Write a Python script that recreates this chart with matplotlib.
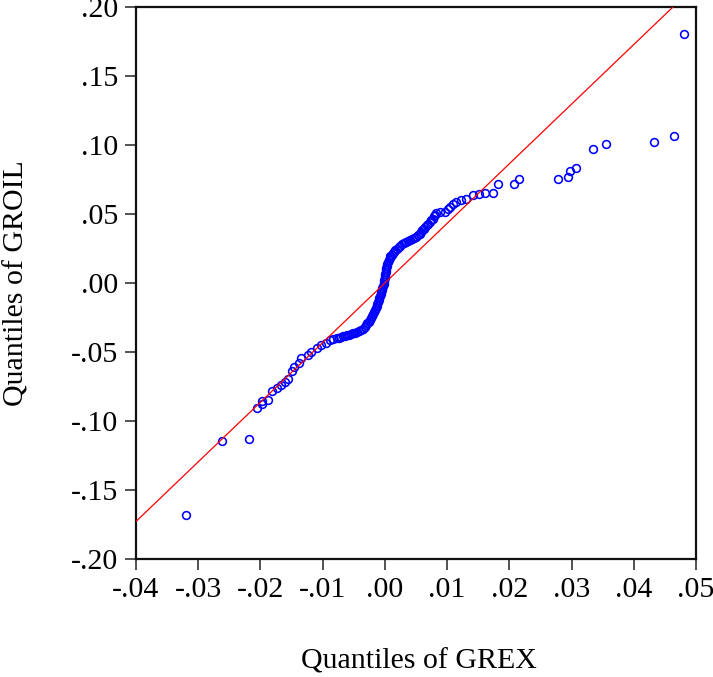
import numpy as np
import matplotlib.pyplot as plt
from matplotlib.ticker import FuncFormatter

# quantiles (sorted), lower tail / dense middle / upper tail
grex_low = [-0.0319, -0.0261, -0.0218, -0.0206, -0.0198, -0.0198, -0.0188, -0.0182,
            -0.0174, -0.0167, -0.0161, -0.0155, -0.0149, -0.0146, -0.0138, -0.0135,
            -0.0123, -0.0118, -0.0109, -0.0103, -0.0094, -0.0088, -0.0083]
groil_low = [-0.1681, -0.1145, -0.1130, -0.0906, -0.0879, -0.0853, -0.0846, -0.0780,
             -0.0761, -0.0737, -0.0715, -0.0696, -0.0639, -0.0607, -0.0578, -0.0543,
             -0.0522, -0.0498, -0.0473, -0.0449, -0.0433, -0.0415, -0.0408]

grex_mid = [-0.0077, -0.0074, -0.0071, -0.0067, -0.0064, -0.0061, -0.0058, -0.0054, -0.0051, -0.0048,
            -0.0045, -0.0042, -0.0038, -0.0035, -0.0032, -0.0030, -0.0028, -0.0026, -0.0024, -0.0022,
            -0.0021, -0.0019, -0.0018, -0.0016, -0.0015, -0.0013, -0.0012, -0.0011, -0.0010, -0.0009,
            -0.0008, -0.0007, -0.0006, -0.0005, -0.0004, -0.0003, -0.0002, -0.0002, -0.0001, 0.0000,
            0.0000, 0.0000, 0.0001, 0.0002, 0.0002, 0.0003, 0.0004, 0.0005, 0.0006, 0.0008,
            0.0009, 0.0011, 0.0013, 0.0015, 0.0017, 0.0020, 0.0022, 0.0025, 0.0028, 0.0031,
            0.0034, 0.0037, 0.0040, 0.0044, 0.0047, 0.0050, 0.0053, 0.0056, 0.0058, 0.0060,
            0.0063, 0.0065, 0.0067, 0.0070, 0.0072, 0.0074, 0.0077, 0.0079, 0.0081]
groil_mid = [-0.0401, -0.0396, -0.0391, -0.0387, -0.0383, -0.0378, -0.0374, -0.0370, -0.0365, -0.0359,
             -0.0354, -0.0347, -0.0339, -0.0330, -0.0319, -0.0307, -0.0293, -0.0279, -0.0265, -0.0251,
             -0.0236, -0.0222, -0.0207, -0.0193, -0.0178, -0.0164, -0.0149, -0.0135, -0.0120, -0.0106,
             -0.0091, -0.0077, -0.0062, -0.0048, -0.0033, -0.0019, -0.0004, 0.0010, 0.0025, 0.0039,
             0.0054, 0.0068, 0.0083, 0.0097, 0.0112, 0.0126, 0.0141, 0.0154, 0.0168, 0.0181,
             0.0193, 0.0206, 0.0217, 0.0228, 0.0239, 0.0249, 0.0259, 0.0267, 0.0283, 0.0290,
             0.0297, 0.0304, 0.0312, 0.0319, 0.0327, 0.0335, 0.0346, 0.0357, 0.0369, 0.0381,
             0.0393, 0.0405, 0.0417, 0.0430, 0.0442, 0.0454, 0.0467, 0.0482, 0.0496]

grex_high = [0.0082, 0.0089, 0.0097, 0.0102, 0.0105, 0.0110, 0.0115, 0.0123, 0.0131, 0.0142,
             0.0152, 0.0161, 0.0173, 0.0181, 0.0207, 0.0215, 0.0278, 0.0295, 0.0297, 0.0307,
             0.0335, 0.0356, 0.0432, 0.0465, 0.0481]
groil_high = [0.0505, 0.0512, 0.0517, 0.0533, 0.0553, 0.0572, 0.0589, 0.0598, 0.0609, 0.0636,
              0.0643, 0.0650, 0.0650, 0.0717, 0.0717, 0.0751, 0.0751, 0.0770, 0.0814, 0.0833,
              0.0971, 0.1009, 0.1024, 0.1067, 0.1807]

# reference line
line_slope = 4.32
line_intercept = 0.0

x_ticks = [-0.04, -0.03, -0.02, -0.01, 0.00, 0.01, 0.02, 0.03, 0.04, 0.05]
y_ticks = [-0.20, -0.15, -0.10, -0.05, 0.00, 0.05, 0.10, 0.15, 0.20]

grex_q = grex_low + grex_mid + grex_high
groil_q = groil_low + groil_mid + groil_high

plt.rcParams['font.family'] = ['Liberation Serif', 'DejaVu Serif']


def eviews_fmt(v, pos):
    s = "%.2f" % v
    if s.startswith("-0"):
        s = "-" + s[2:]
    elif s.startswith("0"):
        s = s[1:]
    return s


fig = plt.figure(figsize=(7.13, 6.77), dpi=100)
ax = fig.add_axes([136 / 713, 1 - 559 / 677, 560 / 713, 552 / 677])

ax.plot(grex_q, groil_q, linestyle='none', marker='o', markersize=5.6,
        markerfacecolor='none', markeredgecolor='#0000ff', markeredgewidth=1.15, zorder=2)
ax.axline((0, line_intercept), slope=line_slope, color='#ff0000', linewidth=0.9, zorder=3)

ax.set_xlim(-0.04, 0.05)
ax.set_ylim(-0.20, 0.20)
ax.set_xticks(x_ticks)
ax.set_yticks(y_ticks)
ax.xaxis.set_major_formatter(FuncFormatter(eviews_fmt))
ax.yaxis.set_major_formatter(FuncFormatter(eviews_fmt))
ax.tick_params(direction='out', length=8, width=1.3, color='#444444',
               labelsize=21.5, pad=5)

for sp in ax.spines.values():
    sp.set_linewidth(1.6)
    sp.set_color('#111111')

ax.set_xlabel("Quantiles of GREX", fontsize=21.5)
ax.set_ylabel("Quantiles of GROIL", fontsize=21.5)
ax.xaxis.set_label_coords(0.505, -0.162)
ax.yaxis.set_label_coords(-0.19, 0.5)

fig.savefig("out.png", dpi=100)
